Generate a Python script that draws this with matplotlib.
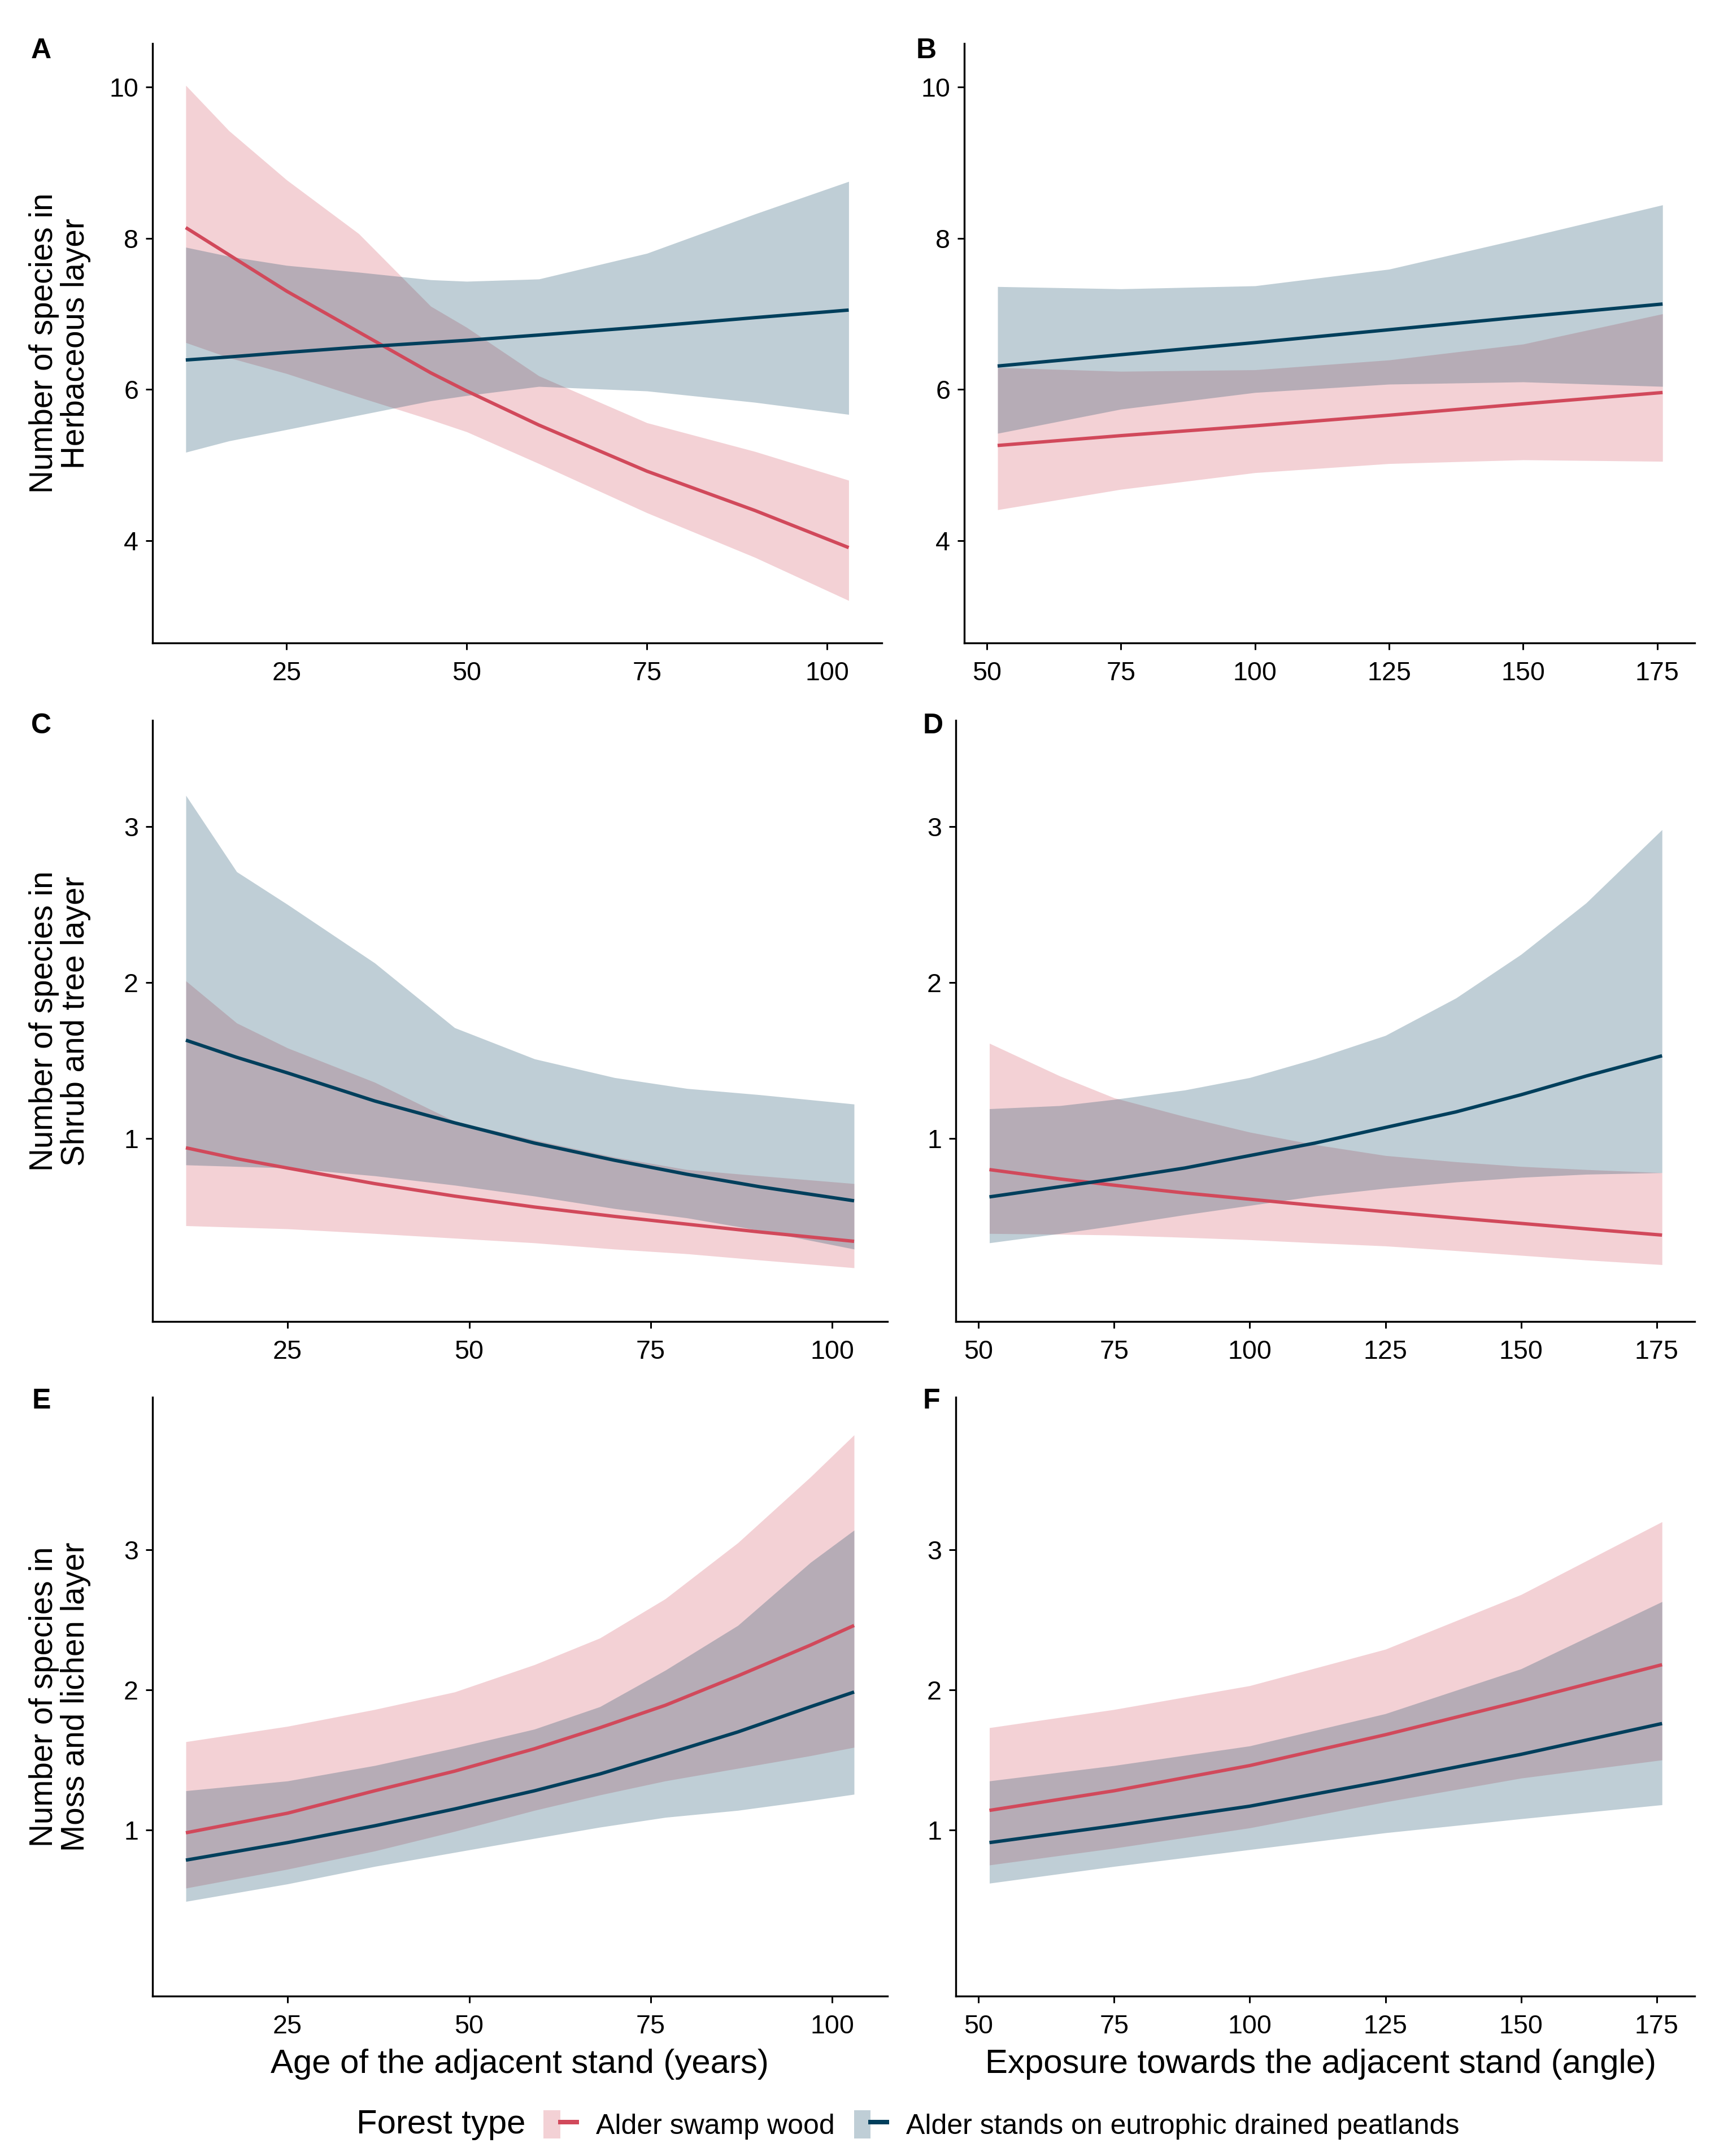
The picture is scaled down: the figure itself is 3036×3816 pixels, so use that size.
import numpy as np
import matplotlib.pyplot as plt
from matplotlib.patches import Patch
from matplotlib.lines import Line2D
from matplotlib.legend_handler import HandlerTuple

plt.rcParams['font.family'] = ['Liberation Sans', 'DejaVu Sans']

RED = '#D1495B'
BLUE = '#003F5C'

forest_types = ['Alder swamp wood', 'Alder stands on eutrophic drained peatlands']

# A - herbaceous layer vs age of adjacent stand
age_a = [11, 17, 25, 35, 45, 50, 60, 75, 90, 103]
a_red = [8.14, 7.78, 7.30, 6.76, 6.22, 5.98, 5.53, 4.92, 4.40, 3.91]
a_red_hi = [10.02, 9.42, 8.77, 8.06, 7.10, 6.82, 6.18, 5.56, 5.18, 4.80]
a_red_lo = [6.62, 6.42, 6.21, 5.90, 5.60, 5.44, 5.02, 4.37, 3.78, 3.21]
a_blue = [6.39, 6.43, 6.49, 6.56, 6.62, 6.65, 6.72, 6.83, 6.95, 7.05]
a_blue_hi = [7.88, 7.76, 7.64, 7.55, 7.45, 7.43, 7.46, 7.80, 8.32, 8.75]
a_blue_lo = [5.17, 5.32, 5.47, 5.66, 5.85, 5.92, 6.04, 5.98, 5.83, 5.67]

# B - herbaceous layer vs exposure
exp_b = [52, 75, 100, 125, 150, 176]
b_red = [5.26, 5.39, 5.52, 5.66, 5.81, 5.96]
b_red_hi = [6.29, 6.24, 6.26, 6.39, 6.60, 7.00]
b_red_lo = [4.41, 4.68, 4.90, 5.02, 5.07, 5.05]
b_blue = [6.31, 6.46, 6.62, 6.79, 6.96, 7.13]
b_blue_hi = [7.36, 7.33, 7.37, 7.59, 8.00, 8.44]
b_blue_lo = [5.42, 5.74, 5.96, 6.07, 6.10, 6.04]

# C - shrub and tree layer vs age
age_c = [11, 18, 25, 37, 48, 59, 70, 80, 90, 103]
c_red = [0.94, 0.87, 0.81, 0.71, 0.63, 0.56, 0.50, 0.45, 0.40, 0.34]
c_red_hi = [2.01, 1.74, 1.58, 1.36, 1.11, 0.99, 0.88, 0.80, 0.76, 0.71]
c_red_lo = [0.44, 0.43, 0.42, 0.39, 0.36, 0.33, 0.29, 0.26, 0.22, 0.17]
c_blue = [1.63, 1.52, 1.42, 1.24, 1.10, 0.97, 0.86, 0.77, 0.69, 0.60]
c_blue_hi = [3.20, 2.71, 2.50, 2.125, 1.71, 1.51, 1.39, 1.32, 1.28, 1.22]
c_blue_lo = [0.83, 0.82, 0.81, 0.76, 0.70, 0.63, 0.55, 0.49, 0.41, 0.29]

# D - shrub and tree layer vs exposure
exp_d = [52, 65, 75, 88, 100, 112, 125, 138, 150, 162, 176]
d_red = [0.80, 0.74, 0.70, 0.65, 0.61, 0.57, 0.53, 0.49, 0.455, 0.42, 0.38]
d_red_hi = [1.61, 1.40, 1.26, 1.14, 1.04, 0.96, 0.89, 0.85, 0.82, 0.80, 0.78]
d_red_lo = [0.39, 0.385, 0.38, 0.365, 0.35, 0.33, 0.31, 0.28, 0.25, 0.22, 0.19]
d_blue = [0.625, 0.69, 0.74, 0.81, 0.89, 0.97, 1.07, 1.17, 1.28, 1.40, 1.53]
d_blue_hi = [1.19, 1.21, 1.25, 1.31, 1.39, 1.51, 1.66, 1.90, 2.18, 2.51, 2.98]
d_blue_lo = [0.33, 0.39, 0.44, 0.51, 0.57, 0.63, 0.68, 0.72, 0.75, 0.77, 0.78]

# E - moss and lichen layer vs age
age_e = [11, 25, 37, 48, 59, 68, 77, 87, 97, 103]
e_red = [0.98, 1.12, 1.28, 1.42, 1.58, 1.73, 1.89, 2.10, 2.32, 2.46]
e_red_hi = [1.63, 1.74, 1.86, 1.985, 2.18, 2.37, 2.65, 3.05, 3.52, 3.82]
e_red_lo = [0.585, 0.72, 0.85, 0.99, 1.14, 1.25, 1.35, 1.44, 1.53, 1.59]
e_blue = [0.785, 0.91, 1.03, 1.15, 1.28, 1.40, 1.54, 1.70, 1.88, 1.985]
e_blue_hi = [1.28, 1.35, 1.46, 1.585, 1.72, 1.88, 2.14, 2.46, 2.91, 3.14]
e_blue_lo = [0.49, 0.615, 0.74, 0.84, 0.94, 1.02, 1.09, 1.14, 1.21, 1.255]

# F - moss and lichen layer vs exposure
exp_f = [52, 75, 100, 125, 150, 176]
f_red = [1.14, 1.28, 1.46, 1.68, 1.92, 2.18]
f_red_hi = [1.73, 1.86, 2.03, 2.29, 2.68, 3.20]
f_red_lo = [0.75, 0.87, 1.015, 1.20, 1.37, 1.50]
f_blue = [0.91, 1.03, 1.17, 1.35, 1.54, 1.76]
f_blue_hi = [1.35, 1.46, 1.60, 1.83, 2.15, 2.63]
f_blue_lo = [0.62, 0.74, 0.86, 0.98, 1.08, 1.18]

age_ticks = [25, 50, 75, 100]
exp_ticks = [50, 75, 100, 125, 150, 175]

fig = plt.figure(figsize=(3036 / 240, 3816 / 240), dpi=240)

# tag, axes rect, tag position, data..., limits, ticks
panels = [
    ('A', [0.0890, 0.7018, 0.4252, 0.2779], (0.024, 0.9764), age_a, a_red, a_red_lo, a_red_hi,
     a_blue, a_blue_lo, a_blue_hi, (6.4, 107.6), (2.65, 10.57), age_ticks, [4, 6, 8, 10]),
    ('B', [0.5623, 0.7018, 0.4259, 0.2779], (0.540, 0.9764), exp_b, b_red, b_red_lo, b_red_hi,
     b_blue, b_blue_lo, b_blue_hi, (45.8, 182.0), (2.65, 10.57), exp_ticks, [4, 6, 8, 10]),
    ('C', [0.0889, 0.3870, 0.4286, 0.2788], (0.024, 0.6633), age_c, c_red, c_red_lo, c_red_hi,
     c_blue, c_blue_lo, c_blue_hi, (6.4, 107.6), (-0.175, 3.68), age_ticks, [1, 2, 3]),
    ('D', [0.5573, 0.3870, 0.4308, 0.2788], (0.544, 0.6633), exp_d, d_red, d_red_lo, d_red_hi,
     d_blue, d_blue_lo, d_blue_hi, (45.8, 182.0), (-0.175, 3.68), exp_ticks, [1, 2, 3]),
    ('E', [0.0889, 0.0742, 0.4286, 0.2778], (0.024, 0.3501), age_e, e_red, e_red_lo, e_red_hi,
     e_blue, e_blue_lo, e_blue_hi, (6.4, 107.6), (-0.185, 4.09), age_ticks, [1, 2, 3]),
    ('F', [0.5573, 0.0742, 0.4308, 0.2778], (0.543, 0.3501), exp_f, f_red, f_red_lo, f_red_hi,
     f_blue, f_blue_lo, f_blue_hi, (45.8, 182.0), (-0.185, 4.09), exp_ticks, [1, 2, 3]),
]

for (tag, rect, tpos, x, r, r_lo, r_hi, b, b_lo, b_hi, xlim, ylim, xt, yt) in panels:
    ax = fig.add_axes(rect)
    ax.fill_between(x, r_lo, r_hi, color=RED, alpha=0.25, lw=0)
    ax.fill_between(x, b_lo, b_hi, color=BLUE, alpha=0.25, lw=0)
    ax.plot(x, r, color=RED, lw=1.8, solid_capstyle='butt')
    ax.plot(x, b, color=BLUE, lw=1.8, solid_capstyle='butt')
    ax.set_xlim(*xlim)
    ax.set_ylim(*ylim)
    ax.set_xticks(xt)
    ax.set_yticks(yt)
    for s in ['top', 'right']:
        ax.spines[s].set_visible(False)
    for s in ['left', 'bottom']:
        ax.spines[s].set_linewidth(1.0)
    ax.tick_params(labelsize=14, length=3.5, width=0.9, colors='black', pad=4)
    ax.tick_params(axis='x', pad=6)
    fig.text(tpos[0], tpos[1], tag, fontsize=15, fontweight='bold', ha='center', va='center')

ylabels = ['Number of species in\nHerbaceous layer',
           'Number of species in\nShrub and tree layer',
           'Number of species in\nMoss and lichen layer']
for lab, yc in zip(ylabels, [0.7018 + 0.2779 / 2, 0.3870 + 0.2788 / 2, 0.0742 + 0.2778 / 2]):
    fig.text(0.035, yc, lab, rotation=90, ha='center', va='center', multialignment='center',
             fontsize=17, linespacing=1.05)

fig.text(0.303, 0.0425, 'Age of the adjacent stand (years)', fontsize=18, ha='center', va='center')
fig.text(0.770, 0.0425, 'Exposure towards the adjacent stand (angle)', fontsize=18, ha='center', va='center')

handles = [(Patch(facecolor=RED, alpha=0.25, lw=0), Line2D([], [], color=RED, lw=2.4)),
           (Patch(facecolor=BLUE, alpha=0.25, lw=0), Line2D([], [], color=BLUE, lw=2.4))]
fig.text(0.208, 0.0145, 'Forest type', fontsize=18, ha='left', va='center')
fig.legend(handles, forest_types, loc='center left', bbox_to_anchor=(0.317, 0.0145), ncol=2,
           frameon=False, fontsize=15, handlelength=1.17, handleheight=1.17, handletextpad=0.68,
           columnspacing=0.68, borderpad=0, borderaxespad=0,
           handler_map={tuple: HandlerTuple(ndivide=None, pad=0)})

fig.savefig('out.png', dpi=240)
